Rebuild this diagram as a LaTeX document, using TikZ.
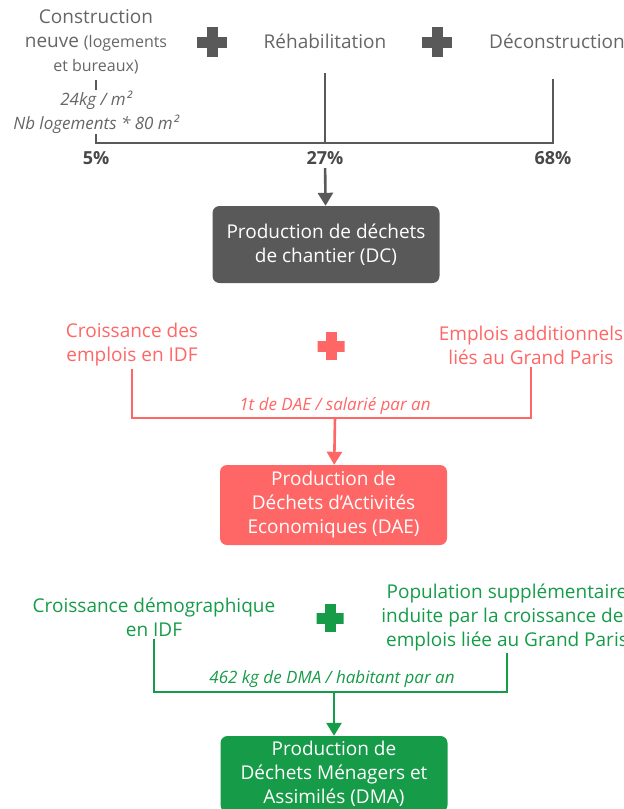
\documentclass[tikz,border=0pt]{standalone}
\usepackage{fontspec}
\setmainfont{Open Sans}
\usepackage{tikz}
\usetikzlibrary{arrows.meta,positioning}
\definecolor{dcgray}{RGB}{89,89,89}
\definecolor{dctext}{RGB}{102,102,102}
\definecolor{dcdark}{RGB}{72,72,72}
\definecolor{daered}{RGB}{255,102,102}
\definecolor{dmagreen}{RGB}{22,155,72}
\newcommand{\srcfont}{\fontsize{19}{24}\selectfont}
\newcommand{\minifont}{\fontsize{16}{24}\selectfont}
\newcommand{\ratefont}{\fontsize{17}{24}\selectfont\itshape}
\tikzstyle{srctext} = [align=center, font=\srcfont, inner sep=2pt]
\tikzstyle{ratetext} = [align=center, font=\ratefont, inner sep=1pt]
\tikzstyle{pcttext} = [font=\fontsize{18}{24}\selectfont\bfseries, text=dcdark]
\tikzstyle{wastebox} = [rectangle, rounded corners=7pt, minimum width=227pt, text=white, align=center, font=\srcfont]
\tikzstyle{link} = [line width=2.6pt]
\tikzstyle{arrow} = [line width=2.6pt, -{Triangle[width=15pt,length=13pt]}]
\tikzset{plussign/.style={minimum size=30pt, inner sep=0pt, path picture={
  \fill[#1] ([shift={(-15pt,-5.5pt)}]path picture bounding box.center) rectangle ++(30pt,11pt);
  \fill[#1] ([shift={(-5.5pt,-15pt)}]path picture bounding box.center) rectangle ++(11pt,30pt);}}}

\begin{document}
\begin{tikzpicture}[x=1pt,y=-1pt]
\useasboundingbox (0,0) rectangle (624,809);
\clip (0,0) rectangle (624,809);

% dechets de chantier
\node[srctext, text=dctext] (cn) at (96,42) {Construction\\neuve {\minifont(logements}\\{\minifont et bureaux)}};
\node[srctext, text=dctext] (reh) at (325,41) {Réhabilitation};
\node[srctext, text=dctext, anchor=west] (dec) at (487,41) {Déconstruction};
\node[plussign=dcgray] (pl1) at (212,42) {};
\node[plussign=dcgray] (pl2) at (437,42) {};
\coordinate (rehtop) at (325,73);
\coordinate (dectop) at (553,79);
\coordinate (jl) at (96,143);
\coordinate (jm) at (325,143);
\coordinate (jr) at (553,143);
\draw[link, dcgray] ([yshift=-4pt]cn.south) -- (jl) -- (jr) -- (dectop);
\draw[link, dcgray] (rehtop) -- (jm);
\node[ratetext, fill=white, text=dctext] (cnrate) at (96,112) {24kg / m²\\Nb logements * 80 m²};
\node[pcttext] (p5) at (96,158) {5\%};
\node[pcttext] (p27) at (325,158) {27\%};
\node[pcttext] (p68) at (553,158) {68\%};
\node[wastebox, fill=dcgray, minimum height=77pt] (dc) at (326,244.5) {Production de déchets\\de chantier (DC)};
\draw[arrow, dcgray] (p27) -- (dc);

% dechets d'activites economiques
\node[srctext, text=daered] (cre) at (132,345) {Croissance des\\emplois en IDF};
\node[srctext, text=daered] (ead) at (531,345) {Emplois additionnels\\liés au Grand Paris};
\node[plussign=daered, minimum size=27pt] (pl3) at (331,346) {};
\coordinate (jred) at (335,418);
\draw[link, daered] (cre) -- (cre |- jred) -- (ead |- jred) -- (ead);
\node[ratetext, text=daered] (daerate) at (335,406) {1t de DAE / salarié par an};
\node[wastebox, fill=daered, minimum height=80pt] (dae) at (333.5,505) {Production de\\Déchets d’Activités\\Economiques (DAE)};
\draw[arrow, daered] (jred) -- (dae);

% dechets menagers et assimiles
\node[srctext, text=dmagreen] (cdg) at (154,617) {Croissance démographique\\en IDF};
\node[srctext, text=dmagreen] (psup) at (507,617) {Population supplémentaire\\induite par la croissance des\\emplois liée au Grand Paris};
\node[plussign=dmagreen, minimum size=27pt] (pl4) at (330,618) {};
\coordinate (jgreen) at (334,692);
\draw[link, dmagreen] (cdg) -- (cdg |- jgreen) -- (psup |- jgreen) -- (psup);
\node[ratetext, text=dmagreen] (dmarate) at (332,679) {462 kg de DMA / habitant par an};
\node[wastebox, fill=dmagreen, minimum height=76pt] (dma) at (334,774) {Production de\\Déchets Ménagers et\\Assimilés (DMA)};
\draw[arrow, dmagreen] (jgreen) -- (dma);
\end{tikzpicture}
\end{document}
